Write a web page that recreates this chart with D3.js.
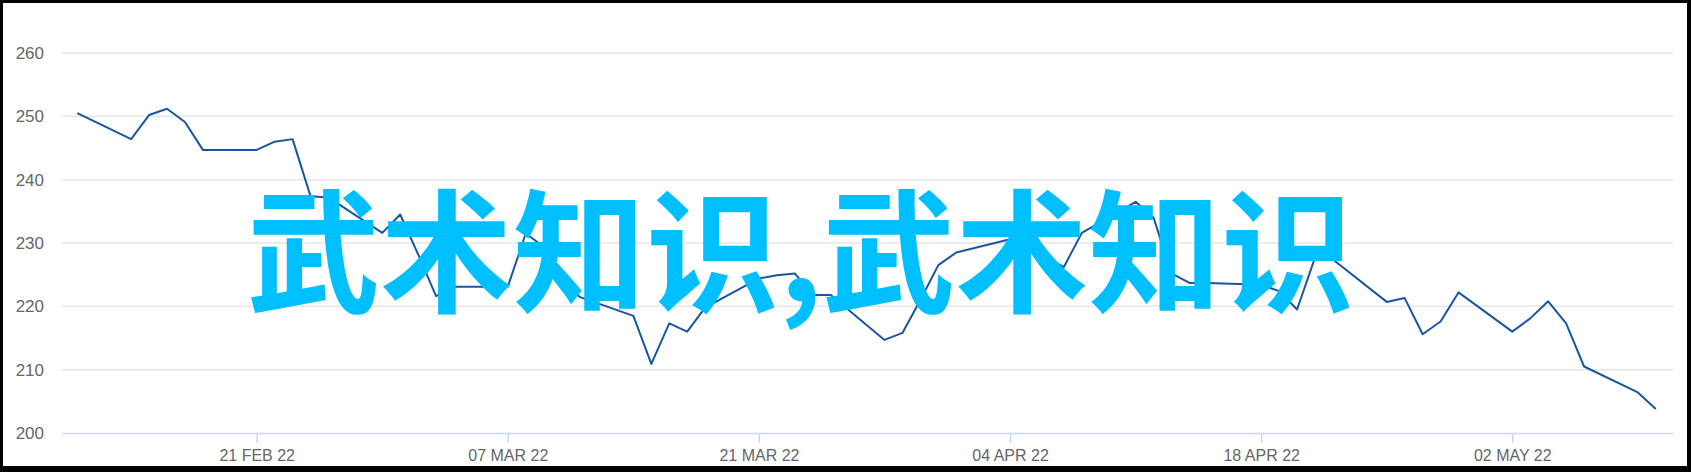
<!DOCTYPE html>
<html>
<head>
<meta charset="utf-8">
<script src="https://cdn.jsdelivr.net/npm/d3@7"></script>
<style>
  html, body { margin: 0; padding: 0; background: #000; }
  svg { display: block; }
</style>
</head>
<body>
<div id="chart"></div>
<script>
// trading days and closing values
var dates = [
  '2022-02-11', '2022-02-14', '2022-02-15', '2022-02-16', '2022-02-17', '2022-02-18',
  '2022-02-21', '2022-02-22', '2022-02-23', '2022-02-24', '2022-02-25',
  '2022-02-28', '2022-03-01', '2022-03-02', '2022-03-03', '2022-03-04',
  '2022-03-07', '2022-03-08', '2022-03-09', '2022-03-10', '2022-03-11',
  '2022-03-14', '2022-03-15', '2022-03-16', '2022-03-17', '2022-03-18',
  '2022-03-21', '2022-03-22', '2022-03-23', '2022-03-24', '2022-03-25',
  '2022-03-28', '2022-03-29', '2022-03-30', '2022-03-31', '2022-04-01',
  '2022-04-04', '2022-04-05', '2022-04-06', '2022-04-07', '2022-04-08',
  '2022-04-11', '2022-04-12', '2022-04-13', '2022-04-14', '2022-04-15',
  '2022-04-18', '2022-04-19', '2022-04-20', '2022-04-21', '2022-04-22',
  '2022-04-25', '2022-04-26', '2022-04-27', '2022-04-28', '2022-04-29',
  '2022-05-02', '2022-05-03', '2022-05-04', '2022-05-05', '2022-05-06',
  '2022-05-09', '2022-05-10'
];
var prices = [
  250.5, 246.4, 250.2, 251.2, 249.1, 244.7,
  244.7, 246.0, 246.4, 237.4, 237.2,
  231.6, 234.5, 228.2, 221.6, 223.1,
  223.1, 231.5, 229.4, 224.5, 221.5,
  218.5, 210.9, 217.3, 216.0, 219.8,
  224.4, 224.9, 225.2, 221.8, 221.8,
  214.7, 215.8, 221.0, 226.5, 228.5,
  230.6, 229.2, 227.8, 226.2, 231.6,
  236.5, 234.0, 225.2, 223.7, 223.7,
  223.4, 222.4, 219.5, 227.7, 227.4,
  220.7, 221.3, 215.6, 217.6, 222.2,
  216.0, 218.1, 220.8, 217.3, 210.5,
  206.4, 203.8
];
var yTicks = [200, 210, 220, 230, 240, 250, 260];
var xTickDates = ['2022-02-21', '2022-03-07', '2022-03-21', '2022-04-04', '2022-04-18', '2022-05-02'];
var watermark = '武术知识,武术知识';

var width = 1691, height = 472;
var parse = d3.timeParse('%Y-%m-%d');
var fmt = d3.timeFormat('%d %b %y');

var data = dates.map(function (d, i) { return { date: parse(d), value: prices[i] }; });

var x = d3.scaleTime()
    .domain([new Date(2022, 1, 10, 3, 30), new Date(2022, 4, 10, 23, 0)])
    .range([62, 1673]);
var y = d3.scaleLinear()
    .domain([200, 260])
    .range([433, 53]);

var svg = d3.select('#chart')
    .append('svg')
    .attr('width', width)
    .attr('height', height);

// white card inside black frame
svg.append('rect')
    .attr('x', 3).attr('y', 3)
    .attr('width', 1684).attr('height', 463)
    .style('fill', '#fff');

// grid lines
svg.append('g')
    .selectAll('line')
    .data(yTicks.filter(function (t) { return t !== 200; }))
    .enter().append('line')
    .attr('x1', 62).attr('x2', 1673)
    .attr('y1', function (d) { return y(d); })
    .attr('y2', function (d) { return y(d); })
    .style('stroke', '#e6e6e6')
    .style('stroke-width', 1.5);

// y labels
svg.append('g')
    .selectAll('text')
    .data(yTicks)
    .enter().append('text')
    .attr('x', 44)
    .attr('y', function (d) { return y(d) + 6; })
    .style('text-anchor', 'end')
    .style('font-family', 'Liberation Sans, Arial, sans-serif')
    .style('font-size', '17px')
    .style('fill', '#666')
    .text(function (d) { return d; });

// x axis
var xAxis = d3.axisBottom(x)
    .tickValues(xTickDates.map(parse))
    .tickSizeInner(10)
    .tickSizeOuter(0)
    .tickPadding(7)
    .tickFormat(function (d) { return fmt(d).toUpperCase(); });

var gx = svg.append('g')
    .attr('transform', 'translate(0,' + y(200) + ')')
    .call(xAxis);
gx.select('.domain').style('stroke', '#ccd6eb').style('stroke-width', 1.5);
gx.selectAll('.tick line').style('stroke', '#ccd6eb').style('stroke-width', 1.5);
gx.selectAll('.tick text')
    .style('font-family', 'Liberation Sans, Arial, sans-serif')
    .style('font-size', '16px')
    .style('fill', '#666');

// price line
var line = d3.line()
    .x(function (d) { return x(d.date); })
    .y(function (d) { return y(d.value); });

svg.append('path')
    .datum(data)
    .attr('d', line)
    .style('fill', 'none')
    .style('stroke', '#1a56a0')
    .style('stroke-width', 2)
    .style('stroke-linejoin', 'round');

// watermark text over the chart
svg.append('text')
    .attr('x', 247)
    .attr('y', 302)
    .style('font-family', '"Noto Sans CJK SC", sans-serif')
    .style('font-weight', 'bold')
    .style('font-size', '133px')
    .style('fill', '#00bfff')
    .text(watermark);
</script>
</body>
</html>
